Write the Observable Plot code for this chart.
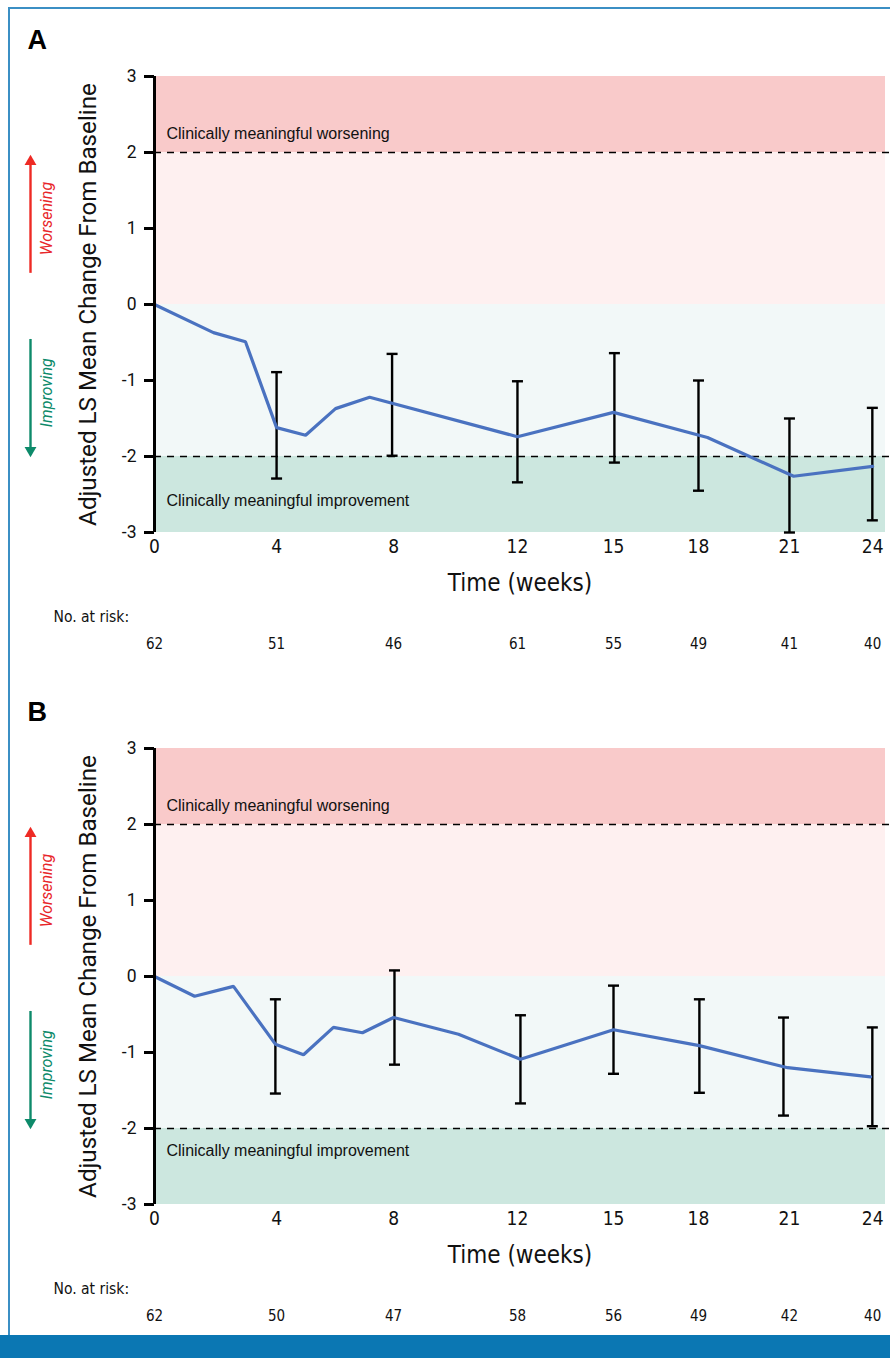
<!DOCTYPE html>
<html>
<head>
<meta charset="utf-8">
<script src="https://cdn.jsdelivr.net/npm/d3@7"></script>
<script src="https://cdn.jsdelivr.net/npm/@observablehq/plot@0.6"></script>
<style>
  html, body { margin: 0; padding: 0; background: #fff; }
  #page { position: relative; width: 890px; height: 1358px; overflow: hidden; }
  .pan { position: absolute; left: 0; }
  #lborder { position: absolute; left: 8px; top: 7px; width: 1.5px; height: 1340px; background: #3b8fc4; }
  #tborder { position: absolute; left: 8px; top: 7px; width: 882px; height: 1.5px; background: #3b8fc4; }
  #bbar { position: absolute; left: 0; top: 1335px; width: 890px; height: 23px; background: #0b77b3; }
  g[font-family*="Condensed"] { font-stretch: condensed; }
</style>
</head>
<body>
<div id="page">
  <div id="pa" class="pan" style="top:0px"></div>
  <div id="pb" class="pan" style="top:672px"></div>
  <div id="lborder"></div>
  <div id="tborder"></div>
  <div id="bbar"></div>
</div>
<script>
// ---- data ----
const tickLabels = ["0", "4", "8", "12", "15", "18", "21", "24"];
const visitWeeks = [0, 4.08, 7.99, 12.13, 15.34, 18.18, 21.22, 24];
const yTicks = [-3, -2, -1, 0, 1, 2, 3];

const atRiskA = [62, 51, 46, 61, 55, 49, 41, 40];
const atRiskB = [62, 50, 47, 58, 56, 49, 42, 40];

const lineWeeksA = [0, 1.97, 3.04, 4.08, 5.05, 6.05, 7.19, 12.13, 15.34, 18.48, 21.36, 24.0];
const lineValsA  = [0, -0.37, -0.49, -1.62, -1.72, -1.37, -1.22, -1.74, -1.42, -1.75, -2.26, -2.13];
const errWeeksA  = [4.08, 7.94, 12.13, 15.37, 18.18, 21.22, 23.99];
const errLowA    = [-2.29, -1.99, -2.34, -2.08, -2.45, -3.00, -2.84];
const errHighA   = [-0.89, -0.65, -1.01, -0.64, -1.00, -1.50, -1.36];

const lineWeeksB = [0, 1.34, 2.64, 4.04, 4.98, 5.98, 6.95, 7.99, 10.16, 12.23, 15.34, 18.21, 21.16, 23.93];
const lineValsB  = [0, -0.26, -0.13, -0.89, -1.03, -0.67, -0.74, -0.54, -0.76, -1.09, -0.70, -0.91, -1.20, -1.32];
const errWeeksB  = [4.04, 8.02, 12.23, 15.34, 18.21, 21.02, 23.99];
const errLowB    = [-1.54, -1.16, -1.67, -1.28, -1.53, -1.83, -1.97];
const errHighB   = [-0.30, 0.08, -0.51, -0.12, -0.30, -0.54, -0.67];

const bandLows  = [2, 0, -2, -3];
const bandHighs = [3, 2, 0, -2];
const bandFills = ["#f9caca", "#fef0f0", "#f2f8f8", "#cce7df"];
const thresholds = [2, -2];

// ---- helpers ----
const XMAX = 24.43;
const narrow = "'DejaVu Sans Condensed', 'Liberation Sans Narrow', sans-serif";
const sans = "Roboto, 'Liberation Sans', Arial, sans-serif";
const helv = "'Liberation Sans', Arial, sans-serif";
const capSymbol = { draw(ctx) { ctx.moveTo(-5.5, 0); ctx.lineTo(5.5, 0); } };

function panel(letter, lineW, lineV, errW, errLo, errHi, atRisk, improveY) {
  const bands = bandLows.map((lo, i) => ({ lo, hi: bandHighs[i], fill: bandFills[i] }));
  const line = lineW.map((w, i) => ({ w, v: lineV[i] }));
  const err = errW.map((w, i) => ({ w, lo: errLo[i], hi: errHi[i] }));
  const visits = visitWeeks.map((w, i) => ({ w, label: tickLabels[i], n: atRisk[i] }));
  return Plot.plot({
    width: 890, height: 672,
    marginLeft: 154, marginRight: 5, marginTop: 76, marginBottom: 140,
    style: { background: "transparent", overflow: "visible" },
    x: { domain: [0, XMAX], axis: null },
    y: { domain: [-3, 3], axis: null },
    color: { type: "identity" },
    marks: [
      Plot.rect(bands, { x1: 0, x2: XMAX, y1: "lo", y2: "hi", fill: "fill" }),
      Plot.ruleY(thresholds, { x1: 0, x2: 24.62, stroke: "#000", strokeWidth: 1.6, strokeDasharray: "7,6" }),
      Plot.text(["Clinically meaningful worsening"], { x: 0, y: 2.25, dx: 12, text: d => d, textAnchor: "start", fontSize: 16, fontFamily: helv, fill: "#111" }),
      Plot.text(["Clinically meaningful improvement"], { x: 0, y: improveY, dx: 12, text: d => d, textAnchor: "start", fontSize: 16, fontFamily: helv, fill: "#111" }),
      Plot.ruleX(err, { x: "w", y1: "lo", y2: "hi", stroke: "#000", strokeWidth: 2.4 }),
      Plot.dot(err, { x: "w", y: "hi", symbol: capSymbol, fill: "none", stroke: "#000", strokeWidth: 2.4 }),
      Plot.dot(err, { x: "w", y: "lo", symbol: capSymbol, fill: "none", stroke: "#000", strokeWidth: 2.4 }),
      Plot.line(line, { x: "w", y: "v", stroke: "#4a72c0", strokeWidth: 3.2, strokeLinejoin: "miter" }),
      Plot.ruleX([0], { stroke: "#000", strokeWidth: 3 }),
      Plot.axisY(yTicks, { tickSize: 10, tickPadding: 8, strokeWidth: 3, fontSize: 17.5, fontFamily: sans, tickFormat: d => String(d), fill: "#111" }),
      Plot.text(visits, { x: "w", text: "label", frameAnchor: "bottom", dy: 20, fontSize: 19, fontFamily: narrow, fill: "#111" }),
      Plot.text(["Time (weeks)"], { frameAnchor: "bottom", dy: 58, text: d => d, fontSize: 24, fontFamily: narrow, fill: "#111" }),
      Plot.text(["No. at risk:"], { frameAnchor: "bottom-left", dx: -101, dy: 89, text: d => d, textAnchor: "start", fontSize: 15.5, fontFamily: narrow, fill: "#111" }),
      Plot.text(visits, { x: "w", text: "n", frameAnchor: "bottom", dy: 116, fontSize: 15, fontFamily: narrow, fill: "#111" }),
      Plot.text(["Adjusted LS Mean Change From Baseline"], { frameAnchor: "left", textAnchor: "middle", dx: -66, rotate: -90, text: d => d, fontSize: 24.2, fontFamily: sans, fill: "#111" }),
      Plot.text([letter], { frameAnchor: "top-left", textAnchor: "start", lineAnchor: "middle", dx: -127, dy: -36, text: d => d, fontSize: 27, fontWeight: "bold", fontFamily: helv, fill: "#000" }),
      // direction arrows
      Plot.ruleX([0], { y1: 0.41, y2: 1.86, dx: -124, stroke: "#ee2a24", strokeWidth: 2.4 }),
      Plot.dot([1.88], { x: 0, y: d => d, dx: -124, symbol: "triangle", r: 4.4, fill: "#ee2a24", stroke: "none" }),
      Plot.text(["Worsening"], { x: 0, y: 1.13, dx: -108, rotate: -90, text: d => d, fontSize: 16, fontStyle: "italic", fontFamily: sans, fill: "#e8262a" }),
      Plot.ruleX([0], { y1: -0.46, y2: -1.9, dx: -124, stroke: "#0d8a6a", strokeWidth: 2.4 }),
      Plot.dot([-1.92], { x: 0, y: d => d, dx: -124, symbol: "triangle", rotate: 180, r: 4.4, fill: "#0d8a6a", stroke: "none" }),
      Plot.text(["Improving"], { x: 0, y: -1.16, dx: -108, rotate: -90, text: d => d, fontSize: 16, fontStyle: "italic", fontFamily: sans, fill: "#0d8a6a" })
    ]
  });
}

document.getElementById("pa").appendChild(panel("A", lineWeeksA, lineValsA, errWeeksA, errLowA, errHighA, atRiskA, -2.58));
document.getElementById("pb").appendChild(panel("B", lineWeeksB, lineValsB, errWeeksB, errLowB, errHighB, atRiskB, -2.30));
</script>
</body>
</html>
